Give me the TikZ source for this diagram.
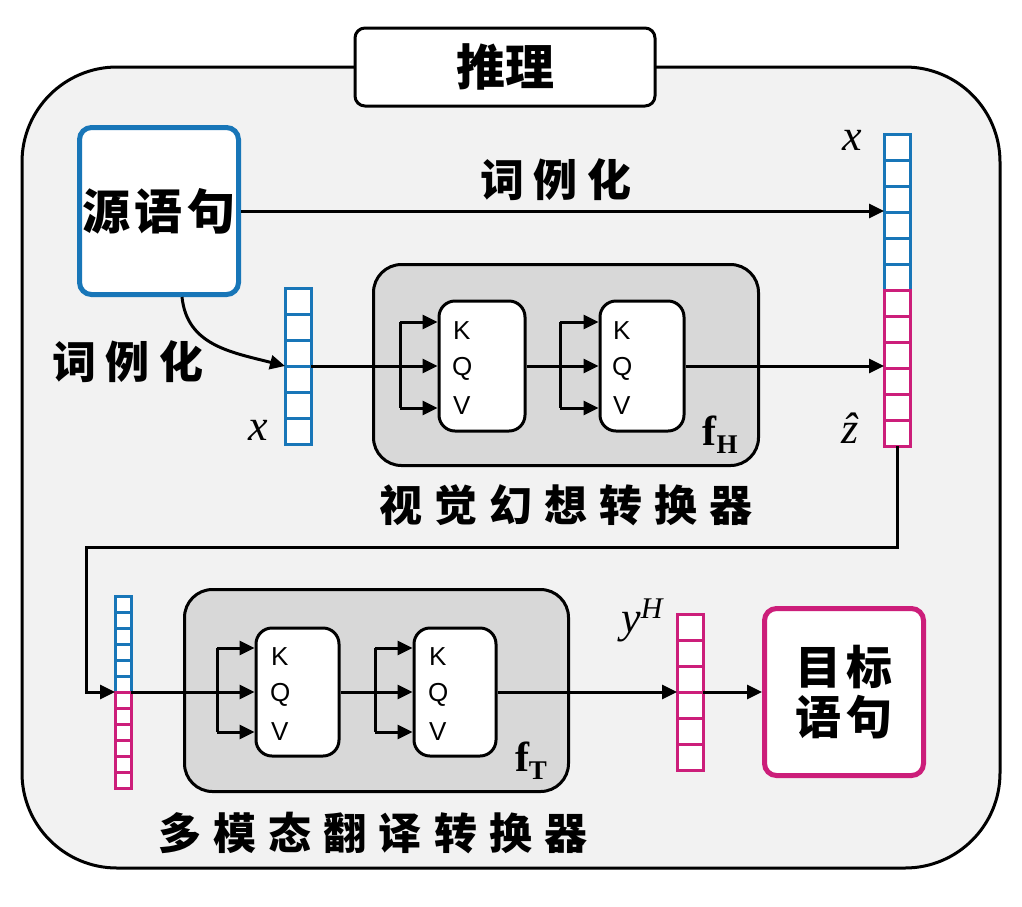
\documentclass[tikz,border=0pt]{standalone}
\usepackage{fontspec}
\usetikzlibrary{arrows.meta}
\newfontfamily\cjk{Noto Sans CJK SC}
\newfontfamily\cjkA{Noto Sans CJK SC}[LetterSpace=10]
\newfontfamily\cjkB{Noto Sans CJK SC}[LetterSpace=22]
\newfontfamily\cjkC{Noto Sans CJK SC}[LetterSpace=28]
\newfontfamily\sansf{Liberation Sans}
\newfontfamily\serf{Liberation Serif}
\definecolor{myblue}{RGB}{24,118,184}
\definecolor{mymag}{RGB}{204,30,122}
\definecolor{outerfill}{RGB}{242,242,242}
\definecolor{graybox}{RGB}{216,216,216}
\newcommand\cellvec[7]{%
  \node[draw=#7, line width=3pt, fill=white, minimum width=#4pt, minimum height={#5*#6*1pt}, inner sep=0pt, outer sep=0pt, anchor=north west] (#1) at (#2,#3) {};
  \foreach \i in {1,...,#6} {\ifnum\i<#6 \draw[#7, line width=3pt] (#2,#3+\i*#5) -- (#2+#4,#3+\i*#5);\fi}%
}
\newcommand\fsub[1]{{\serf\bfseries f\raisebox{-8pt}{\fontsize{27}{29}\selectfont #1}}}
\begin{document}
\begin{tikzpicture}[x=1pt,y=-1pt,
  arr/.style={line width=3pt, -{Triangle[length=15pt,width=14pt]}},
  ln/.style={line width=3pt},
  gbox/.style={draw, line width=3pt, fill=graybox, rounded corners=28pt, inner sep=0pt},
  blk/.style={draw, line width=3pt, fill=white, rounded corners=16pt, inner sep=0pt},
  kqv/.style={font=\sansf\fontsize{26}{30}\selectfont, anchor=west, inner sep=0pt},
  mlab/.style={font=\serf\itshape\fontsize{44}{48}\selectfont, inner sep=0pt},
  flab/.style={font=\fontsize{42}{44}\selectfont, inner sep=0pt},
  tokl/.style={font=\cjkB\bfseries\fontsize{44}{50}\selectfont, inner sep=0pt},
  modl/.style={font=\cjkC\bfseries\fontsize{43}{50}\selectfont, inner sep=0pt},
]
\useasboundingbox (0,0) rectangle (1022,906);
% outer frame
\draw[line width=3pt, fill=outerfill, rounded corners=95pt] (22,67) rectangle (1000,868);
\node[draw, line width=3pt, fill=white, rounded corners=10pt, minimum width=300pt, minimum height=78pt, font=\cjk\bfseries\fontsize{49}{52}\selectfont] (title) at (505,67) {推理};
% source sentence
\node[draw=myblue, line width=5pt, fill=white, rounded corners=12pt, minimum width=159pt, minimum height=167pt, inner sep=0pt, font=\cjkA\bfseries\fontsize{48}{52}\selectfont] (src) at (159,211) {源语句};
% target sentence
\node[draw=mymag, line width=5pt, fill=white, rounded corners=12pt, minimum width=159pt, minimum height=167pt, inner sep=0pt, align=center, font=\cjkA\bfseries\fontsize{46}{50}\selectfont] (tgt) at (844,692) {目标\\语句};
% vectors
\cellvec{tvb}{884}{134}{26}{26}{6}{myblue}
\cellvec{tvm}{884}{290}{26}{26}{6}{mymag}
\cellvec{lv}{285}{288}{26}{26}{6}{myblue}
\cellvec{bvb}{115}{596}{16}{16}{6}{myblue}
\cellvec{bvm}{115}{692}{16}{16}{6}{mymag}
\cellvec{yv}{677}{614}{26}{26}{6}{mymag}
% hallucination transformer
\node[gbox, minimum width=385pt, minimum height=201pt] (gh) at (566,365) {};
\node[blk, minimum width=86pt, minimum height=130pt] (h1) at (482,366) {};
\node[blk, minimum width=84pt, minimum height=130pt] (h2) at (642,366) {};
\node[kqv] (h1k) at (453,331) {K};
\node[kqv] (h1q) at (452,369) {Q};
\node[kqv] (h1v) at (453,406) {V};
\node[kqv] (h2k) at (613,331) {K};
\node[kqv] (h2q) at (612,369) {Q};
\node[kqv] (h2v) at (613,406) {V};
\node[flab] (fh) at (720,435) {\fsub{H}};
\node[modl] (ghl) at (566,505) {视觉幻想转换器};
% translation transformer
\node[gbox, minimum width=384pt, minimum height=202pt] (gt) at (376.5,690.5) {};
\node[blk, minimum width=83pt, minimum height=128pt] (t1) at (297.5,692) {};
\node[blk, minimum width=82pt, minimum height=128pt] (t2) at (455,692) {};
\node[kqv] (t1k) at (271,657) {K};
\node[kqv] (t1q) at (270,695) {Q};
\node[kqv] (t1v) at (271,732) {V};
\node[kqv] (t2k) at (429,657) {K};
\node[kqv] (t2q) at (428,695) {Q};
\node[kqv] (t2v) at (429,732) {V};
\node[flab] (ft) at (531,761) {\fsub{T}};
\node[modl] (gtl) at (373,833) {多模态翻译转换器};
% labels
\node[tokl] (tok1) at (556,180) {词例化};
\node[tokl] (tok2) at (128,362) {词例化};
\node[mlab] (lx1) at (852,140) {x};
\node[mlab] (lz) at (850,428) {\^z};
\node[mlab] (lx2) at (258,430) {x};
\node[mlab] (ly) at (642,620) {y\raisebox{14pt}{\fontsize{30}{32}\selectfont H}};
% connectors top
\draw[arr] (src.east) -- (src.east -| tvb.west);
\draw[arr] ([xshift=23pt]src.south) .. controls +(5,48) and +(-55,-14) .. (lv.west);
\draw[arr] (lv.east) -- (h1.west);
\draw[ln] (400,322) -- (400,408);
\draw[arr] (400,322) -- (h1.west |- 0,322);
\draw[arr] (400,408) -- (h1.west |- 0,408);
\draw[arr] (h1.east) -- (h2.west);
\draw[ln] (560,322) -- (560,408);
\draw[arr] (560,322) -- (h2.west |- 0,322);
\draw[arr] (560,408) -- (h2.west |- 0,408);
\draw[arr] (h2.east) -- (h2.east -| tvm.west);
% loop connector
\coordinate (c1) at (86,547);
\draw[arr] (tvm.south) |- (c1) |- (bvm.north west);
% connectors bottom
\draw[arr] (bvm.north east) -- (t1.west);
\draw[ln] (217,648) -- (217,732);
\draw[arr] (217,648) -- (t1.west |- 0,648);
\draw[arr] (217,732) -- (t1.west |- 0,732);
\draw[arr] (t1.east) -- (t2.west);
\draw[ln] (375,648) -- (375,732);
\draw[arr] (375,648) -- (t2.west |- 0,648);
\draw[arr] (375,732) -- (t2.west |- 0,732);
\draw[arr] (t2.east) -- (t2.east -| yv.west);
\draw[arr] (yv.east) -- (tgt.west);
\end{tikzpicture}
\end{document}
